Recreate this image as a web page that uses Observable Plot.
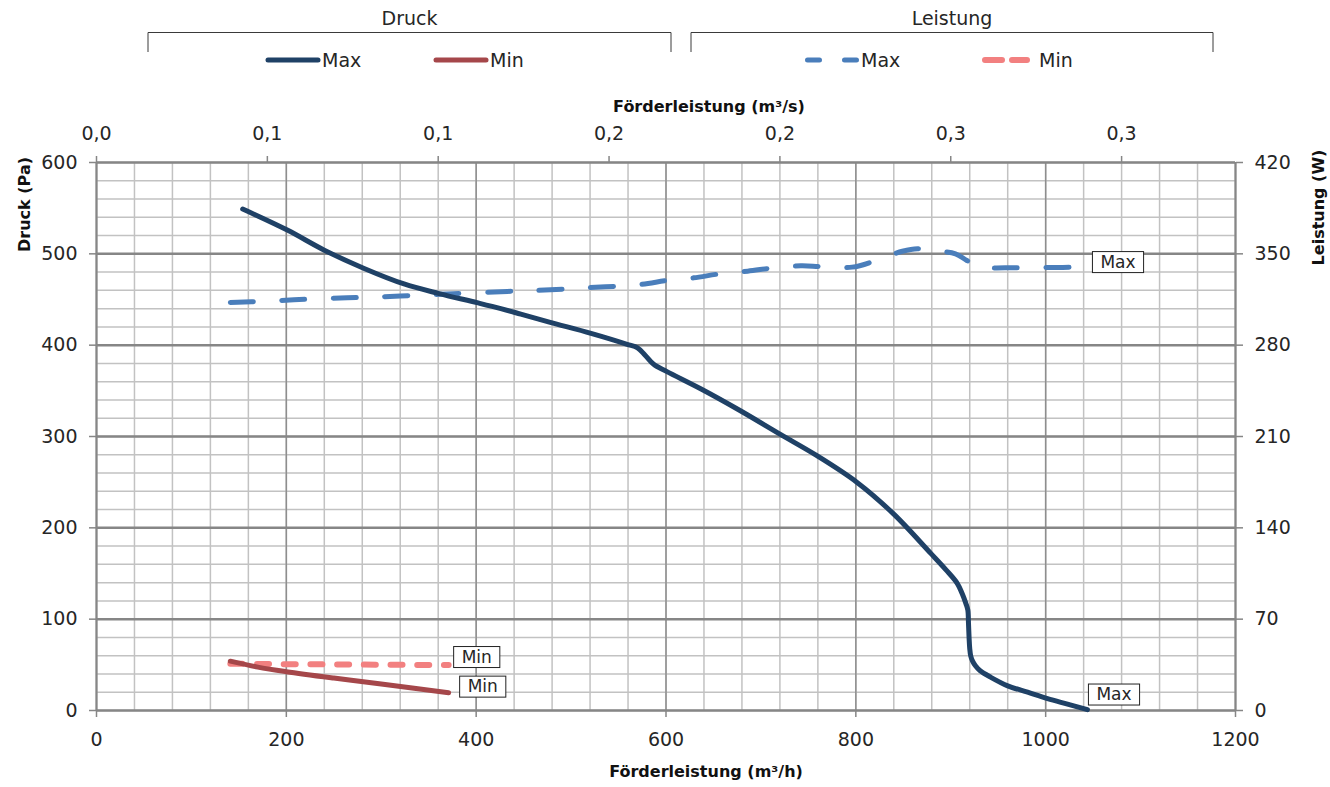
<!DOCTYPE html>
<html><head><meta charset="utf-8">
<script src="https://cdn.jsdelivr.net/npm/d3@7"></script>
<script src="https://cdn.jsdelivr.net/npm/@observablehq/plot@0.6"></script>
<style>
html,body{margin:0;padding:0;background:#fff}
body{width:1330px;height:787px;overflow:hidden;font-family:"DejaVu Sans",sans-serif}
#legend svg{display:block}
#chart svg{display:block}
</style></head><body>
<div id="legend"></div>
<div id="chart"></div>
<script>
// ---------- data ----------
const groups = ["Druck", "Leistung"];
const seriesNames = ["Max", "Min"];

const druckMaxFlow = [154, 201, 240, 282, 324, 361, 401, 426, 447, 478, 521, 559, 570, 578, 587, 601, 637, 677, 721, 759, 801, 840, 879, 895, 907, 912, 916, 918, 918.7, 919.3, 920, 921, 923, 926, 931, 942, 960, 981, 1002, 1023, 1044];
const druckMaxPa   = [549, 526, 504, 484, 467, 456.5, 446.5, 440, 434, 425, 413, 401, 397, 389, 379, 371, 352, 329, 302, 279, 250, 215, 172, 154, 139, 128, 117, 110, 95, 80, 68, 60, 54, 49, 43.5, 36.5, 27, 20, 13, 7, 1];

const druckMinFlow = [141, 170, 200, 250, 300, 371];
const druckMinPa   = [54, 47.5, 42.5, 35.5, 29, 19.5];

const leistungMaxFlow = [141, 180, 208, 264, 292, 348, 376, 433, 461, 517, 573, 601, 629, 657, 686, 714, 742, 763, 796, 824, 849, 865, 879, 905, 917, 930, 958, 1000, 1044];
const leistungMaxW    = [312.7, 313.7, 314.8, 316.3, 316.8, 318.6, 319.4, 321.2, 321.9, 324, 326.5, 329.6, 331.6, 334.7, 336.7, 339.3, 340.8, 340.3, 339.8, 345.6, 352, 353.9, 352.6, 350, 344.9, 339.8, 339.3, 339.5, 339.8];

const leistungMinFlow = [141, 250, 371];
const leistungMinW    = [35.8, 35.3, 34.8];

const xTicks = [0, 200, 400, 600, 800, 1000, 1200];
const yTicksPa = [0, 100, 200, 300, 400, 500, 600];
const yTicksW = [0, 70, 140, 210, 280, 350, 420];
const topTicksM3s = [0, 0.05, 0.1, 0.15, 0.2, 0.25, 0.3];
const topTickLabels = ["0,0", "0,1", "0,1", "0,2", "0,2", "0,3", "0,3"];

const colors = {
  druckMax: "#1F4166", druckMin: "#A5474A",
  leistungMax: "#4A7EBB", leistungMin: "#F28080"
};

// ---------- derived ----------
const wToPa = yTicksPa[yTicksPa.length - 1] / yTicksW[yTicksW.length - 1];
const toRows = (fx, fy, k = 1) => fx.map((x, i) => ({x, y: fy[i] * k}));
const dMax = toRows(druckMaxFlow, druckMaxPa);
const dMin = toRows(druckMinFlow, druckMinPa);
const lMax = toRows(leistungMaxFlow, leistungMaxW, wToPa);
const lMin = toRows(leistungMinFlow, leistungMinW, wToPa);

const topTickPos = topTicksM3s.map(v => v * 3600);
const topLabelMap = new Map(topTickPos.map((p, i) => [p, topTickLabels[i]]));
const rightTickPos = yTicksW.map(w => w * wToPa);
const rightLabelMap = new Map(rightTickPos.map((p, i) => [p, String(yTicksW[i])]));

const minorX = d3.range(0, 1201, 40);
const minorY = d3.range(0, 601, 20);

const endLabels = [
  {...dMax[dMax.length - 1], text: seriesNames[0], dx: 9, dy: -15},
  {...lMax[lMax.length - 1], text: seriesNames[0], dx: 13, dy: -5},
  {...lMin[lMin.length - 1], text: seriesNames[1], dx: 13, dy: -8},
  {...dMin[dMin.length - 1], text: seriesNames[1], dx: 19, dy: -6}
];

const FONT = '"DejaVu Sans", sans-serif';

// ---------- legend ----------
(function legend() {
  const svg = d3.select("#legend").append("svg")
    .attr("width", 1330).attr("height", 85)
    .style("font-family", FONT);
  const g = [
    {name: groups[0], x0: 148, x1: 671, items: [
      {label: seriesNames[0], color: colors.druckMax, sx: 268, ex: 318, dash: null, w: 5, tx: 322},
      {label: seriesNames[1], color: colors.druckMin, sx: 436, ex: 486, dash: null, w: 5, tx: 490}]},
    {name: groups[1], x0: 691, x1: 1213, items: [
      {label: seriesNames[0], color: colors.leistungMax, sx: 807.5, ex: 856.5, dash: "12,25", w: 5, tx: 861},
      {label: seriesNames[1], color: colors.leistungMin, sx: 985, ex: 1027, dash: "17,10", w: 6, tx: 1039}]}
  ];
  for (const grp of g) {
    svg.append("text").attr("x", (grp.x0 + grp.x1) / 2).attr("y", 25)
      .attr("text-anchor", "middle").attr("font-size", 19).attr("fill", "#262626").text(grp.name);
    svg.append("path").attr("d", `M${grp.x0},52V32.5H${grp.x1}V52`)
      .attr("fill", "none").attr("stroke", "#3a3a3a").attr("stroke-width", 1);
    for (const it of grp.items) {
      svg.append("line").attr("x1", it.sx).attr("x2", it.ex).attr("y1", 60).attr("y2", 60)
        .attr("stroke", it.color).attr("stroke-width", it.w).attr("stroke-linecap", "round")
        .attr("stroke-dasharray", it.dash);
      svg.append("text").attr("x", it.tx).attr("y", 67).attr("font-size", 19)
        .attr("fill", "#262626").text(it.label);
    }
  }
})();

// ---------- chart ----------
const chart = Plot.plot({
  width: 1330, height: 702,
  marginTop: 77, marginBottom: 77, marginLeft: 96, marginRight: 95,
  style: {fontFamily: FONT, fontSize: "19px", color: "#262626", background: "#fff", overflow: "visible"},
  x: {domain: [0, 1200]},
  y: {domain: [0, 600]},
  marks: [
    Plot.ruleX(minorX, {stroke: "#c2c2c2", strokeWidth: 1.5}),
    Plot.ruleY(minorY, {stroke: "#c2c2c2", strokeWidth: 1.5}),
    Plot.ruleX(xTicks, {stroke: "#8e8e8e", strokeWidth: 1.5}),
    Plot.ruleY(yTicksPa, {stroke: "#868686", strokeWidth: 2.5}),
    Plot.ruleX([0, 1200], {stroke: "#868686", strokeWidth: 2}),
    Plot.axisX(xTicks, {anchor: "bottom", tickSize: 7, tickPadding: 15, stroke: "#868686", strokeWidth: 1.5, tickFormat: d => String(d), label: null, fontSize: 19}),
    Plot.axisX(topTickPos, {anchor: "top", tickSize: 7, tickPadding: 16, stroke: "#868686", strokeWidth: 1.5, tickFormat: d => topLabelMap.get(d), label: null, fontSize: 19}),
    Plot.axisY(yTicksPa, {anchor: "left", tickSize: 7, tickPadding: 12, stroke: "#868686", strokeWidth: 1.5, tickFormat: d => String(d), label: null, fontSize: 19}),
    Plot.axisY(rightTickPos, {anchor: "right", tickSize: 7, tickPadding: 12, stroke: "#868686", strokeWidth: 1.5, tickFormat: d => rightLabelMap.get(d), label: null, fontSize: 19}),

    Plot.line(lMin, {x: "x", y: "y", stroke: colors.leistungMin, strokeWidth: 6, strokeLinecap: "round", strokeDasharray: "12,14.7"}),
    Plot.line(dMin, {x: "x", y: "y", stroke: colors.druckMin, strokeWidth: 5, strokeLinecap: "round", curve: "catmull-rom"}),
    Plot.line(lMax, {x: "x", y: "y", stroke: colors.leistungMax, strokeWidth: 5, strokeLinecap: "round", strokeDasharray: "23,28.5", curve: "catmull-rom"}),
    Plot.line(dMax, {x: "x", y: "y", stroke: colors.druckMax, strokeWidth: 5, strokeLinecap: "round", strokeLinejoin: "round", curve: "catmull-rom"}),

    ...endLabels.map(l => Plot.text([l], {x: "x", y: "y", text: "text", dx: l.dx, dy: l.dy, textAnchor: "start", fontSize: 17, fill: "#262626"})),

    Plot.text(["Druck (Pa)"], {text: d => d, frameAnchor: "top-left", dx: -78, dy: 42, rotate: -90, textAnchor: "middle", fontWeight: "bold", fontSize: 16, fill: "#111"}),
    Plot.text(["Leistung (W)"], {text: d => d, frameAnchor: "top-right", dx: 77, dy: 45, rotate: -90, textAnchor: "middle", fontWeight: "bold", fontSize: 16, fill: "#111"}),
    Plot.text(["Förderleistung (m³/s)"], {text: d => d, frameAnchor: "top", dx: 43, dy: -62, textAnchor: "middle", fontWeight: "bold", fontSize: 16, fill: "#111"}),
    Plot.text(["Förderleistung (m³/h)"], {text: d => d, frameAnchor: "bottom", dx: 40, dy: 66, textAnchor: "middle", fontWeight: "bold", fontSize: 16, fill: "#111"})
  ]
});
document.getElementById("chart").append(chart);

// white boxes with outline behind the end labels
Array.from(chart.querySelectorAll("text"))
  .filter(t => seriesNames.includes(t.textContent))
  .forEach(t => {
    const b = t.getBBox();
    const r = document.createElementNS("http://www.w3.org/2000/svg", "rect");
    r.setAttribute("x", b.x - 8);
    r.setAttribute("y", b.y);
    r.setAttribute("width", b.width + 16);
    r.setAttribute("height", b.height + 1);
    r.setAttribute("fill", "#fff");
    r.setAttribute("stroke", "#222");
    r.setAttribute("stroke-width", 1);
    if (t.getAttribute("transform")) r.setAttribute("transform", t.getAttribute("transform"));
    t.parentNode.insertBefore(r, t);
  });
</script>
</body></html>
